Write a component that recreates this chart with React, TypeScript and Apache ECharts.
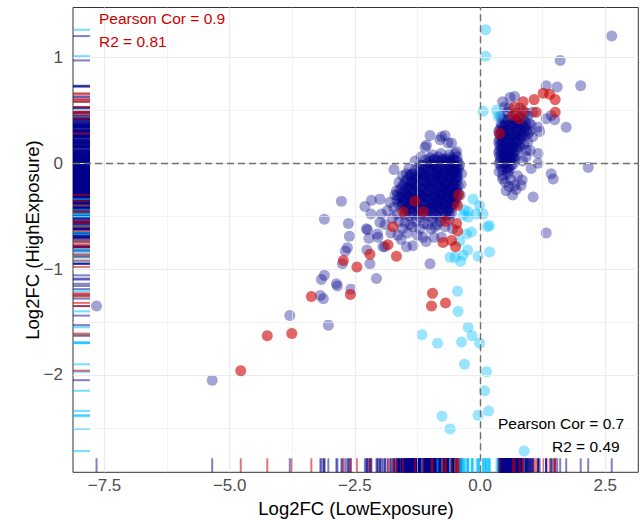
import React, { useEffect, useRef } from 'react';
import * as echarts from 'echarts';

// ---------- data ----------
const navyPoints: number[][] = [
  // sparse / outlying
  [-7.66, -1.35], [-5.35, -2.05], [-3.80, -1.44], [-3.03, -1.53], [-3.17, -1.10], [-3.11, -1.06],
  [-2.87, -1.14], [-2.85, -1.16], [-3.19, -1.25], [-3.13, -1.28], [-2.58, -1.19], [-3.11, -0.53],
  [-2.77, -0.36], [-2.63, -0.57], [-2.61, -0.69], [-2.65, -0.80], [-2.69, -0.83], [-2.75, -0.95],
  [-2.25, -0.63], [-2.22, -0.71], [-2.26, -0.82], [-2.20, -0.95], [-2.07, -1.09], [-2.05, -0.67],
  [-1.94, -0.79], [-2.00, -0.56], [-2.30, -0.41], [-2.18, -0.48], [-2.27, -0.62], [-2.04, -0.70],
  [-1.90, -0.79], [-1.72, -0.06], [-1.47, -0.10], [-1.67, -0.26], [-2.17, -0.35], [-2.00, -0.34],
  [-1.80, -0.37], [-1.97, -0.48], [-1.47, -0.79], [-1.34, -0.78], [-1.14, -0.70], [-1.00, -0.95],
  [-1.00, 0.26], [-0.77, 0.25], [-0.70, 0.26], [-1.07, 0.17], [-0.57, 0.19], [-0.47, 0.11],
  [-0.77, -0.70], [-1.64, -0.68], [-0.90, -0.60], [-1.10, 0.15], [-0.80, 0.22], [-0.64, 0.19],
  [-0.41, -0.02], [-0.37, -0.10], [-0.38, -0.20], [-0.40, -0.30],
  [-1.85, -0.45], [-1.75, -0.52], [-1.90, -0.58], [-1.62, -0.55], [-1.55, -0.62], [-1.78, -0.66],
  [-1.40, -0.58], [-1.28, -0.55], [-1.20, -0.62], [-1.05, -0.58], [-0.95, -0.52], [-0.80, -0.55],
  [-1.50, -0.56], [-1.35, -0.60], [-1.12, -0.57], [-0.98, -0.62], [-0.86, -0.58], [-0.70, -0.60],
  [-0.62, -0.53], [-1.45, -0.66], [-1.25, -0.68], [-0.92, -0.70], [-1.65, -0.48], [-1.72, -0.42],
  [-1.70, -0.30], [-1.62, -0.18], [-1.55, -0.12], [-1.42, -0.05], [-1.30, 0.02], [-1.18, 0.06],
  [-0.55, -0.62], [-1.08, -0.74], [-1.58, -0.72],
  // dense cluster (low / negative), first layer
  [-1.00, 0.05], [-0.91, 0.03], [-0.83, 0.06], [-0.75, 0.04], [-0.67, 0.02], [-0.60, 0.05], [-0.53, 0.03], [-0.46, 0.06],
  [-1.14, -0.02], [-1.05, 0.00], [-0.97, -0.01], [-0.88, -0.03], [-0.80, 0.01], [-0.72, -0.02], [-0.64, 0.00], [-0.57, -0.01], [-0.50, -0.03], [-0.44, 0.01],
  [-1.22, -0.05], [-1.13, -0.07], [-1.04, -0.06], [-0.95, -0.04], [-0.87, -0.07], [-0.79, -0.05], [-0.70, -0.08], [-0.62, -0.04], [-0.55, -0.06], [-0.48, -0.07], [-0.43, -0.05],
  [-1.21, -0.08], [-1.03, -0.09], [-0.86, -0.08], [-0.69, -0.09], [-0.52, -0.08],
  [-1.35, -0.10], [-1.26, -0.12], [-1.17, -0.09], [-1.08, -0.11], [-0.99, -0.13], [-0.90, -0.10], [-0.82, -0.12], [-0.74, -0.09], [-0.66, -0.11], [-0.58, -0.13], [-0.51, -0.10], [-0.45, -0.12],
  [-1.45, -0.15], [-1.36, -0.17], [-1.27, -0.14], [-1.18, -0.16], [-1.09, -0.18], [-1.00, -0.15], [-0.92, -0.17], [-0.84, -0.14], [-0.76, -0.16], [-0.68, -0.18], [-0.60, -0.15], [-0.53, -0.17], [-0.46, -0.14],
  [-1.40, -0.19], [-1.22, -0.18], [-1.04, -0.19], [-0.87, -0.18], [-0.71, -0.19], [-0.55, -0.18],
  [-1.52, -0.20], [-1.43, -0.22], [-1.34, -0.19], [-1.25, -0.21], [-1.16, -0.23], [-1.07, -0.20], [-0.98, -0.22], [-0.89, -0.19], [-0.81, -0.21], [-0.73, -0.23], [-0.65, -0.20], [-0.57, -0.22], [-0.50, -0.19], [-0.44, -0.21],
  [-1.60, -0.25], [-1.51, -0.27], [-1.42, -0.24], [-1.33, -0.26], [-1.24, -0.28], [-1.15, -0.25], [-1.06, -0.27], [-0.97, -0.24], [-0.88, -0.26], [-0.80, -0.28], [-0.72, -0.25], [-0.64, -0.27], [-0.56, -0.24], [-0.49, -0.26], [-0.44, -0.28],
  [-1.47, -0.29], [-1.29, -0.28], [-1.11, -0.29], [-0.93, -0.28], [-0.76, -0.29], [-0.60, -0.28],
  [-1.65, -0.30], [-1.56, -0.32], [-1.47, -0.31], [-1.38, -0.31], [-1.29, -0.33], [-1.20, -0.30], [-1.11, -0.32], [-1.02, -0.31], [-0.93, -0.31], [-0.85, -0.33], [-0.77, -0.30], [-0.69, -0.32], [-0.61, -0.29], [-0.54, -0.31], [-0.47, -0.33],
  [-1.66, -0.35], [-1.57, -0.37], [-1.48, -0.34], [-1.39, -0.36], [-1.30, -0.38], [-1.21, -0.35], [-1.12, -0.37], [-1.03, -0.34], [-0.94, -0.36], [-0.86, -0.38], [-0.78, -0.35], [-0.70, -0.37], [-0.62, -0.34], [-0.55, -0.36], [-0.49, -0.38],
  [-1.56, -0.40], [-1.47, -0.42], [-1.38, -0.39], [-1.29, -0.41], [-1.20, -0.43], [-1.11, -0.40], [-1.02, -0.42], [-0.93, -0.39], [-0.85, -0.41], [-0.77, -0.43], [-0.69, -0.40], [-0.61, -0.42], [-0.53, -0.39],
  [-1.46, -0.45], [-1.36, -0.47], [-1.25, -0.46], [-1.15, -0.48], [-1.04, -0.45], [-0.94, -0.47], [-0.84, -0.46], [-0.74, -0.48], [-0.64, -0.45], [-0.57, -0.47],
  // dense cluster (low / negative), second layer
  [-1.09, 0.03], [-1.00, 0.02], [-0.92, 0.04], [-0.84, 0.02], [-0.76, 0.03], [-0.68, 0.04], [-0.61, 0.02], [-0.54, 0.04], [-0.47, 0.02],
  [-0.95, 0.08], [-0.78, 0.09], [-0.62, 0.08], [-0.50, 0.09],
  [-1.18, -0.02], [-1.09, -0.04], [-1.00, -0.03], [-0.92, -0.02], [-0.84, -0.04], [-0.76, -0.03], [-0.68, -0.02], [-0.60, -0.04], [-0.53, -0.02], [-0.46, -0.04],
  [-1.30, -0.07], [-1.12, -0.10], [-0.95, -0.07], [-0.78, -0.10], [-0.61, -0.07], [-0.46, -0.09], [-1.39, -0.11],
  [-1.40, -0.12], [-1.31, -0.14], [-1.22, -0.13], [-1.13, -0.12], [-1.04, -0.14], [-0.95, -0.13], [-0.87, -0.12], [-0.79, -0.14], [-0.71, -0.13], [-0.63, -0.12], [-0.55, -0.14], [-0.48, -0.13],
  [-1.49, -0.17], [-1.31, -0.18], [-1.13, -0.17], [-0.96, -0.18], [-0.79, -0.17], [-0.63, -0.18], [-0.47, -0.17],
  [-1.56, -0.22], [-1.47, -0.24], [-1.38, -0.23], [-1.29, -0.22], [-1.20, -0.24], [-1.11, -0.23], [-1.02, -0.22], [-0.93, -0.24], [-0.85, -0.23], [-0.77, -0.22], [-0.69, -0.24], [-0.61, -0.23], [-0.53, -0.22], [-0.47, -0.24],
  [-1.56, -0.28], [-1.38, -0.27], [-1.20, -0.28], [-1.02, -0.27], [-0.84, -0.28], [-0.68, -0.27], [-0.52, -0.28],
  [-1.61, -0.33], [-1.52, -0.34], [-1.43, -0.32], [-1.34, -0.33], [-1.25, -0.34], [-1.16, -0.32], [-1.07, -0.33], [-0.98, -0.34], [-0.89, -0.32], [-0.81, -0.33], [-0.73, -0.34], [-0.65, -0.32], [-0.58, -0.33], [-0.51, -0.34],
  [-1.62, -0.39], [-1.53, -0.38], [-1.43, -0.39], [-1.34, -0.38], [-1.25, -0.39], [-1.16, -0.38], [-1.07, -0.39], [-0.98, -0.38], [-0.89, -0.39], [-0.81, -0.38], [-0.73, -0.39], [-0.66, -0.38], [-0.58, -0.39], [-0.52, -0.37],
  [-1.51, -0.44], [-1.42, -0.43], [-1.33, -0.44], [-1.24, -0.43], [-1.15, -0.44], [-1.06, -0.43], [-0.97, -0.44], [-0.89, -0.43], [-0.81, -0.44], [-0.73, -0.43], [-0.65, -0.44], [-0.58, -0.43],
  [-1.50, -0.49], [-1.41, -0.50], [-1.31, -0.49], [-1.20, -0.51], [-1.10, -0.49], [-0.99, -0.50], [-0.89, -0.49], [-0.79, -0.51], [-0.69, -0.50], [-0.61, -0.49],
  // right cluster (positive)
  [2.63, 1.20], [1.60, 0.97], [2.01, 0.73], [1.54, 0.72], [1.32, 0.73], [1.72, 0.34], [2.16, -0.04],
  [1.42, -0.10], [1.46, -0.15], [1.16, 0.09], [1.06, -0.32], [0.69, -0.21], [0.84, -0.16], [0.56, -0.08],
  [1.16, 0.00], [1.02, -0.05], [0.92, 0.06], [0.92, 0.12], [0.69, 0.63], [0.49, 0.53], [1.42, 0.45],
  [1.32, 0.42], [1.49, 0.41], [1.16, 0.34], [1.19, 0.30], [0.99, 0.30], [1.32, -0.66], [0.82, -0.21],
  [0.72, -0.25], [0.45, 0.58], [0.60, 0.62], [0.55, 0.48], [0.80, 0.52], [0.95, 0.45], [1.05, 0.48],
  [0.95, 0.20], [1.00, 0.12], [1.05, 0.25], [0.98, 0.38],
  [0.38, -0.08], [0.45, -0.12], [0.55, -0.10], [0.62, -0.16], [0.50, -0.18],
  [0.45, -0.15], [0.58, -0.22], [0.65, -0.30], [0.52, -0.26], [0.75, -0.12], [0.85, 0.02], [0.88, 0.18],
  [0.96, 0.28], [1.02, 0.36], [0.90, 0.48], [0.58, 0.52], [0.72, 0.47],
  [0.42, 0.37], [0.50, 0.39], [0.58, 0.36], [0.66, 0.38], [0.74, 0.40], [0.82, 0.37], [0.90, 0.39],
  [0.40, 0.32], [0.48, 0.34], [0.56, 0.31], [0.64, 0.33], [0.72, 0.35], [0.80, 0.32], [0.88, 0.34], [0.93, 0.31],
  [0.39, 0.27], [0.47, 0.29], [0.55, 0.26], [0.63, 0.28], [0.71, 0.30], [0.79, 0.27], [0.87, 0.29],
  [0.43, 0.30], [0.59, 0.30], [0.75, 0.31], [0.43, 0.20], [0.58, 0.21], [0.73, 0.19],
  [0.39, 0.22], [0.46, 0.24], [0.54, 0.21], [0.62, 0.23], [0.70, 0.25], [0.78, 0.22], [0.83, 0.24],
  [0.39, 0.17], [0.46, 0.19], [0.54, 0.16], [0.62, 0.18], [0.70, 0.20], [0.78, 0.17],
  [0.39, 0.12], [0.46, 0.14], [0.53, 0.11], [0.60, 0.13], [0.67, 0.15], [0.74, 0.12],
  [0.43, 0.10], [0.57, 0.10], [0.50, 0.05], [0.64, 0.05],
  [0.39, 0.07], [0.46, 0.09], [0.53, 0.06], [0.60, 0.08], [0.67, 0.10], [0.71, 0.07],
  [0.40, 0.02], [0.47, 0.04], [0.54, 0.01], [0.61, 0.03], [0.66, 0.05],
  [0.42, -0.03], [0.49, -0.01], [0.56, -0.04], [0.62, -0.02], [0.50, 0.00],
  [0.46, 0.42], [0.54, 0.41], [0.62, 0.43], [0.70, 0.41], [0.78, 0.43], [0.86, 0.42],
  [0.44, 0.35], [0.52, 0.36], [0.60, 0.35], [0.68, 0.36], [0.76, 0.35], [0.84, 0.36], [0.92, 0.35],
  [0.43, 0.25], [0.51, 0.26], [0.59, 0.25], [0.67, 0.26], [0.75, 0.25], [0.82, 0.26], [0.89, 0.26],
  [0.42, 0.15], [0.50, 0.16], [0.58, 0.15], [0.66, 0.16], [0.73, 0.15], [0.80, 0.15],
  [0.42, 0.05], [0.50, 0.08], [0.57, 0.05], [0.64, 0.08], [0.70, 0.04],
  [0.44, -0.06], [0.52, -0.05], [0.59, -0.06], [0.66, -0.01],
  [0.41, 0.44], [0.38, 0.00], [0.37, 0.20], [0.37, 0.30], [0.37, 0.10],
];

const cyanPoints: number[][] = [
  [0.11, 1.26], [0.11, 1.01], [0.06, 0.49], [0.33, 0.50], [0.36, 0.44],
  [-0.14, -0.34], [-0.01, -0.40], [0.06, -0.48], [-0.07, -0.48], [-0.24, -0.46], [-0.34, -0.49],
  [-0.31, -0.44], [-0.24, -0.51], [0.19, -0.59], [0.15, -0.60], [-0.17, -0.65], [-0.27, -0.67],
  [-0.41, -0.74], [-0.25, -0.82], [-0.34, -0.87], [-0.60, -0.89], [-0.50, -0.89], [-0.39, -0.93],
  [-0.04, -0.88], [0.19, -0.84], [-0.45, -1.21], [-0.44, -1.40], [-1.16, -1.62], [-0.85, -1.70],
  [-0.37, -1.69], [-0.24, -1.55], [-0.16, -1.63], [-0.01, -1.70], [-0.31, -1.90], [0.13, -1.97],
  [0.09, -2.15], [0.17, -2.34], [-0.04, -2.38], [-0.76, -2.39], [-0.60, -2.51], [0.88, -2.72],
];

const redPoints: number[][] = [
  [-4.25, -1.63], [-3.76, -1.61], [-4.78, -1.96], [-3.37, -1.26], [-2.59, -1.24], [-2.46, -0.98],
  [-2.73, -0.92], [-2.20, -0.86], [-1.84, -0.77], [-1.67, -0.88], [-0.95, -1.23], [-0.97, -1.35],
  [-0.69, -1.32], [-0.43, -0.30], [-0.45, -0.40], [-0.69, -0.55], [-0.47, -0.57], [-0.45, -0.64],
  [-0.57, -0.73], [-0.74, -0.75], [-0.49, -0.79], [-1.30, -0.36], [-1.54, -0.46], [-1.14, -0.46],
  [-1.74, -0.60],
  [0.39, 0.28], [0.69, 0.53], [0.86, 0.58], [0.79, 0.42], [0.66, 0.45], [1.08, 0.60], [1.12, 0.48],
  [1.26, 0.66], [1.39, 0.65], [1.50, 0.60], [1.50, 0.48], [0.86, 0.49],
];

const xTickValues = [-7.5, -5, -2.5, 0, 2.5];
const xTickLabels = ['\u22127.5', '\u22125.0', '\u22122.5', '0.0', '2.5'];
const yTickValues = [1, 0, -1, -2];
const yTickLabels = ['1', '0', '\u22121', '\u22122'];
const xMinorValues = [-6.25, -3.75, -1.25, 1.25];
const yMinorValues = [0.5, -0.5, -1.5, -2.5];

const xTitle = 'Log2FC (LowExposure)';
const yTitle = 'Log2FC (HighExposure)';
const topCorText = 'Pearson Cor = 0.9';
const topR2Text = 'R2 = 0.81';
const bottomCorText = 'Pearson Cor = 0.7';
const bottomR2Text = 'R2 = 0.49';

// ---------- styling ----------
const X_MIN = -8.13;
const X_MAX = 3.16;
const Y_MIN = -2.92;
const Y_MAX = 1.47;
const FONT = "'Liberation Sans', Arial, Helvetica, sans-serif";
const NAVY = 'rgba(0,0,139,0.45)';
const CYAN = 'rgba(0,191,255,0.5)';
const RED = 'rgba(205,0,0,0.75)';
const RUG_COLORS = ['rgba(0,0,139,0.5)', 'rgba(0,191,255,0.55)', 'rgba(205,0,0,0.55)'];
const LEFT_RUG_LEN = 17;
const BOTTOM_RUG_LEN = 14;

function labelFor(values: number[], labels: string[], v: number) {
  const i = values.findIndex((t) => Math.abs(t - v) < 1e-6);
  return i >= 0 ? labels[i] : '';
}

export default function App() {
  const ref = useRef<HTMLDivElement>(null);

  useEffect(() => {
    if (!ref.current) return;
    const chart = echarts.init(ref.current, undefined, { renderer: 'svg' });

    const rugData = [
      ...navyPoints.map((p) => [p[0], p[1], 0]),
      ...cyanPoints.map((p) => [p[0], p[1], 1]),
      ...redPoints.map((p) => [p[0], p[1], 2]),
    ];

    const gridLineData = [
      ...xMinorValues.map((v) => ({ xAxis: v, lineStyle: { color: '#EBEBEB', width: 0.6, type: 'solid' } })),
      ...yMinorValues.map((v) => ({ yAxis: v, lineStyle: { color: '#EBEBEB', width: 0.6, type: 'solid' } })),
      ...xTickValues.map((v) => ({ xAxis: v, lineStyle: { color: '#EBEBEB', width: 1.2, type: 'solid' } })),
      ...yTickValues.map((v) => ({ yAxis: v, lineStyle: { color: '#EBEBEB', width: 1.2, type: 'solid' } })),
    ];

    const scatterBase = {
      type: 'scatter',
      symbol: 'circle',
      symbolSize: 11,
      silent: true,
      emphasis: { disabled: true },
    };

    chart.setOption({
      animation: false,
      backgroundColor: '#ffffff',
      grid: {
        left: 73,
        right: 2.7,
        top: 7.5,
        bottom: 47.7,
        show: true,
        borderColor: '#333333',
        borderWidth: 1,
        backgroundColor: 'transparent',
      },
      xAxis: {
        type: 'value',
        min: X_MIN,
        max: X_MAX,
        axisLine: { show: false },
        splitLine: { show: false },
        axisTick: {
          show: true,
          customValues: xTickValues,
          length: 5,
          lineStyle: { color: '#333333', width: 1 },
        },
        axisLabel: {
          customValues: xTickValues,
          formatter: (v: number) => labelFor(xTickValues, xTickLabels, v),
          color: '#4D4D4D',
          fontSize: 17,
          fontFamily: FONT,
          margin: 5,
        },
      },
      yAxis: {
        type: 'value',
        min: Y_MIN,
        max: Y_MAX,
        axisLine: { show: false },
        splitLine: { show: false },
        axisTick: {
          show: true,
          customValues: yTickValues,
          length: 5,
          lineStyle: { color: '#333333', width: 1 },
        },
        axisLabel: {
          customValues: yTickValues,
          formatter: (v: number) => labelFor(yTickValues, yTickLabels, v),
          color: '#4D4D4D',
          fontSize: 17,
          fontFamily: FONT,
          margin: 10,
        },
      },
      series: [
        {
          type: 'scatter',
          data: [[0, 0]],
          symbolSize: 0,
          silent: true,
          z: 0,
          markLine: {
            silent: true,
            symbol: ['none', 'none'],
            label: { show: false },
            emphasis: { disabled: true },
            data: gridLineData,
          },
        },
        {
          type: 'scatter',
          data: [[0, 0]],
          symbolSize: 0,
          silent: true,
          z: 1,
          markLine: {
            silent: true,
            symbol: ['none', 'none'],
            label: { show: false },
            emphasis: { disabled: true },
            lineStyle: { color: '#707070', width: 1.4, type: [7, 4] },
            data: [{ xAxis: 0 }, { yAxis: 0 }],
          },
        },
        {
          type: 'custom',
          z: 2,
          silent: true,
          data: rugData,
          encode: { x: 0, y: 1 },
          renderItem: (params: any, api: any) => {
            const pt = api.coord([X_MIN, api.value(1)]);
            return {
              type: 'line',
              shape: { x1: pt[0], y1: pt[1], x2: pt[0] + LEFT_RUG_LEN, y2: pt[1] },
              style: { stroke: RUG_COLORS[api.value(2)], lineWidth: 2 },
            };
          },
        },
        {
          type: 'custom',
          z: 2,
          silent: true,
          data: rugData,
          encode: { x: 0, y: 1 },
          renderItem: (params: any, api: any) => {
            const pt = api.coord([api.value(0), Y_MIN]);
            return {
              type: 'line',
              shape: { x1: pt[0], y1: pt[1], x2: pt[0], y2: pt[1] - BOTTOM_RUG_LEN },
              style: { stroke: RUG_COLORS[api.value(2)], lineWidth: 2 },
            };
          },
        },
        { ...scatterBase, z: 3, data: navyPoints, itemStyle: { color: NAVY } },
        { ...scatterBase, z: 4, data: cyanPoints, itemStyle: { color: CYAN } },
        { ...scatterBase, z: 5, data: redPoints, itemStyle: { color: RED } },
      ],
      graphic: [
        {
          type: 'text',
          x: 99,
          y: 18.6,
          z: 10,
          style: { text: topCorText, fill: '#CD0000', fontSize: 15.5, fontFamily: FONT, align: 'left', verticalAlign: 'middle' },
        },
        {
          type: 'text',
          x: 99,
          y: 41.6,
          z: 10,
          style: { text: topR2Text, fill: '#CD0000', fontSize: 15.5, fontFamily: FONT, align: 'left', verticalAlign: 'middle' },
        },
        {
          type: 'text',
          x: 498,
          y: 423.3,
          z: 10,
          style: { text: bottomCorText, fill: '#000000', fontSize: 15.5, fontFamily: FONT, align: 'left', verticalAlign: 'middle' },
        },
        {
          type: 'text',
          x: 552,
          y: 446.6,
          z: 10,
          style: { text: bottomR2Text, fill: '#000000', fontSize: 15.5, fontFamily: FONT, align: 'left', verticalAlign: 'middle' },
        },
        {
          type: 'text',
          x: 356,
          y: 508.5,
          z: 10,
          style: { text: xTitle, fill: '#000000', fontSize: 18.5, fontFamily: FONT, align: 'center', verticalAlign: 'middle' },
        },
        {
          type: 'text',
          x: 32.5,
          y: 240,
          rotation: Math.PI / 2,
          z: 10,
          style: { text: yTitle, fill: '#000000', fontSize: 18.5, fontFamily: FONT, align: 'center', verticalAlign: 'middle' },
        },
      ],
    });

    return () => {
      chart.dispose();
    };
  }, []);

  return (
    <div
      ref={ref}
      style={{ position: 'absolute', left: 0, top: 0, width: 641, height: 520, background: '#ffffff' }}
    />
  );
}
